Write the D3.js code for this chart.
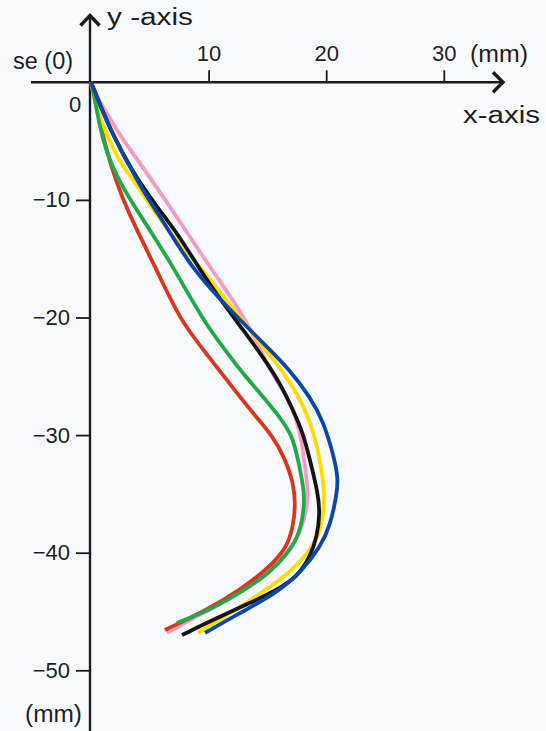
<!DOCTYPE html>
<html>
<head>
<meta charset="utf-8">
<script src="https://cdn.jsdelivr.net/npm/d3@7"></script>
<style>
  html, body { margin: 0; padding: 0; background: #f9fafd; }
  svg { display: block; }
  text { font-family: "Liberation Sans", Arial, sans-serif; fill: #1e1e1e; }
</style>
</head>
<body>
<svg id="chart" width="546" height="731"></svg>
<script>
// ---- data (x in mm, y in mm) ----
const xTicks = [10, 20, 30];
const yTicks = [-10, -20, -30, -40, -50];

const pinkX  = [0, 0.77, 2.72, 4.76, 6.72, 8.42, 10.29, 12.07, 13.27, 14.20, 15.22, 16.67, 17.52, 17.94, 18.11, 18.45, 18.37, 17.77, 16.92, 15.22, 12.67, 9.52, 6.46];
const pinkY  = [0, -1.76, -4.91, -7.71, -10.60, -13.15, -15.96, -18.51, -20.47, -22.34, -24.46, -26.76, -28.72, -30.68, -32.12, -34.41, -36.37, -38.32, -39.77, -41.47, -43.42, -45.12, -46.82];

const redX   = [0, 0.43, 0.91, 1.62, 2.61, 3.89, 5.59, 7.57, 9.75, 12.00, 13.90, 15.40, 16.50, 17.20, 17.40, 17.18, 16.67, 15.22, 12.67, 9.86, 6.29];
const redY   = [0, -1.93, -4.06, -6.91, -9.73, -12.56, -15.96, -20.21, -23.00, -25.90, -28.30, -30.00, -32.00, -34.00, -35.90, -37.81, -39.51, -41.22, -43.17, -44.87, -46.57];

const yellowX = [0, 0.51, 1.19, 2.30, 3.91, 5.87, 7.57, 9.52, 12.84, 15.05, 16.24, 18.03, 19.05, 19.47, 19.90, 19.73, 19.30, 18.62, 17.18, 15.22, 12.67, 9.10];
const yellowY = [0, -2.36, -4.06, -6.61, -8.73, -11.71, -13.83, -15.96, -20.21, -23.02, -24.46, -27.27, -30.16, -32.12, -34.92, -36.96, -38.66, -39.77, -41.47, -42.92, -44.62, -46.82];

const blackX = [0, 1.62, 3.57, 5.61, 7.57, 9.27, 11.22, 12.93, 14.63, 16.07, 17.18, 18.03, 18.62, 19.30, 19.47, 19.22, 18.62, 17.52, 15.82, 13.52, 10.71, 7.74];
const blackY = [0, -4.06, -7.71, -10.60, -13.15, -15.96, -18.77, -21.06, -23.36, -25.57, -27.86, -29.82, -32.12, -34.92, -36.63, -38.67, -40.37, -42.07, -43.17, -44.28, -45.55, -47.00];

const greenX = [0, 0.20, 0.77, 1.62, 3.15, 5.02, 7.14, 9.52, 11.22, 12.67, 14.37, 16.07, 17.18, 17.60, 18.20, 18.03, 17.60, 16.75, 15.22, 12.67, 10.12, 7.31];
const greenY = [0, -0.65, -4.06, -6.86, -9.75, -12.56, -15.96, -20.21, -22.51, -24.46, -26.42, -28.46, -30.16, -32.12, -34.92, -36.96, -38.66, -40.02, -41.72, -43.42, -44.87, -45.97];

const blueX  = [0, 1.62, 4.17, 6.44, 8.67, 11.82, 14.63, 16.92, 18.62, 19.73, 20.75, 21.00, 20.92, 20.32, 19.47, 18.03, 15.82, 12.67, 9.69];
const blueY  = [0, -4.06, -8.88, -12.28, -15.96, -19.36, -22.16, -24.46, -26.76, -28.72, -32.12, -33.80, -34.92, -37.81, -39.51, -41.47, -43.42, -45.12, -46.82];

const seriesNames  = ["pink", "red", "yellow", "black", "green", "blue"];
const seriesX = [pinkX, redX, yellowX, blackX, greenX, blueX];
const seriesY = [pinkY, redY, yellowY, blackY, greenY, blueY];
const seriesColors = ["#f59ac2", "#d8361f", "#ffdc00", "#141414", "#22a84b", "#0c46a6"];

// ---- layout ----
const svg = d3.select("#chart");
const pxPerMm = 11.76;
const x0 = 91, y0 = 82.3;
const x = d3.scaleLinear().domain([0, 30]).range([x0, x0 + 30 * pxPerMm]);
const y = d3.scaleLinear().domain([0, -50]).range([y0, y0 + 50 * pxPerMm]);

svg.append("rect").attr("width", 546).attr("height", 731).attr("fill", "#f9fafd");

// axes lines with arrows
const axisColor = "#1a1a1a";
const ax = svg.append("g").attr("stroke", axisColor).attr("fill", "none").attr("stroke-width", 2.4);
ax.append("line").attr("x1", 31).attr("x2", 503).attr("y1", y(0)).attr("y2", y(0));
ax.append("polyline").attr("points", `${493},${y(0) - 10} ${503},${y(0)} ${493},${y(0) + 10}`).attr("stroke-width", 3.4);
ax.append("line").attr("x1", x(0) - 1).attr("x2", x(0) - 1).attr("y1", 15).attr("y2", 731);
ax.append("polyline").attr("points", `${x(0) - 10.5},${25.5} ${x(0) - 1},${15.5} ${x(0) + 8.5},${25.5}`).attr("stroke-width", 3.4);

// x axis ticks
const xAxis = d3.axisTop(x).tickValues(xTicks).tickSize(12).tickPadding(9).tickFormat(d3.format("d"));
const gx = svg.append("g").attr("transform", `translate(0,${y(0)})`).call(xAxis);
gx.select(".domain").remove();
gx.selectAll(".tick line").attr("stroke", axisColor).attr("stroke-width", 1.8);
gx.selectAll(".tick text").attr("font-size", 22).attr("fill", "#1e1e1e").attr("font-family", "Liberation Sans, Arial, sans-serif");

// y axis ticks
const yAxis = d3.axisLeft(y).tickValues(yTicks).tickSize(14).tickPadding(6);
const gy = svg.append("g").attr("transform", `translate(${x(0) - 1},0)`).call(yAxis);
gy.select(".domain").remove();
gy.selectAll(".tick line").attr("stroke", axisColor).attr("stroke-width", 1.8);
gy.selectAll(".tick text").attr("font-size", 22).attr("fill", "#1e1e1e").attr("font-family", "Liberation Sans, Arial, sans-serif");

// labels
const lab = (t, xx, yy, len, fam, fs) => {
  const el = svg.append("text").attr("x", xx).attr("y", yy).attr("font-size", fs || 22).text(t);
  if (fam) el.attr("font-family", fam);
  if (len) el.attr("textLength", len).attr("lengthAdjust", "spacingAndGlyphs");
  return el;
};
const cjk = "Noto Sans CJK JP, sans-serif";
lab("y -axis", 107, 25, 86, cjk, 23);
lab("se (0)", 13, 69, 60, cjk, 23);
lab("(mm)", 470, 62, 58, cjk, 23);
lab("0", 69, 112);
lab("x-axis", 463, 123, 77, cjk, 23);
lab("(mm)", 25, 722, 57, cjk, 23);

// curves
const line = d3.line().x(d => x(d[0])).y(d => y(d[1])).curve(d3.curveBasis);
const cg = svg.append("g").attr("fill", "none");
seriesNames.forEach((name, i) => {
  const pts = seriesX[i].map((v, j) => [v, seriesY[i][j]]);
  cg.append("path")
    .attr("class", "curve-" + name)
    .attr("d", line(pts))
    .attr("stroke", seriesColors[i])
    .attr("stroke-width", 3.8)
    .attr("stroke-linecap", "butt")
    .attr("stroke-linejoin", "round");
});
</script>
</body>
</html>
